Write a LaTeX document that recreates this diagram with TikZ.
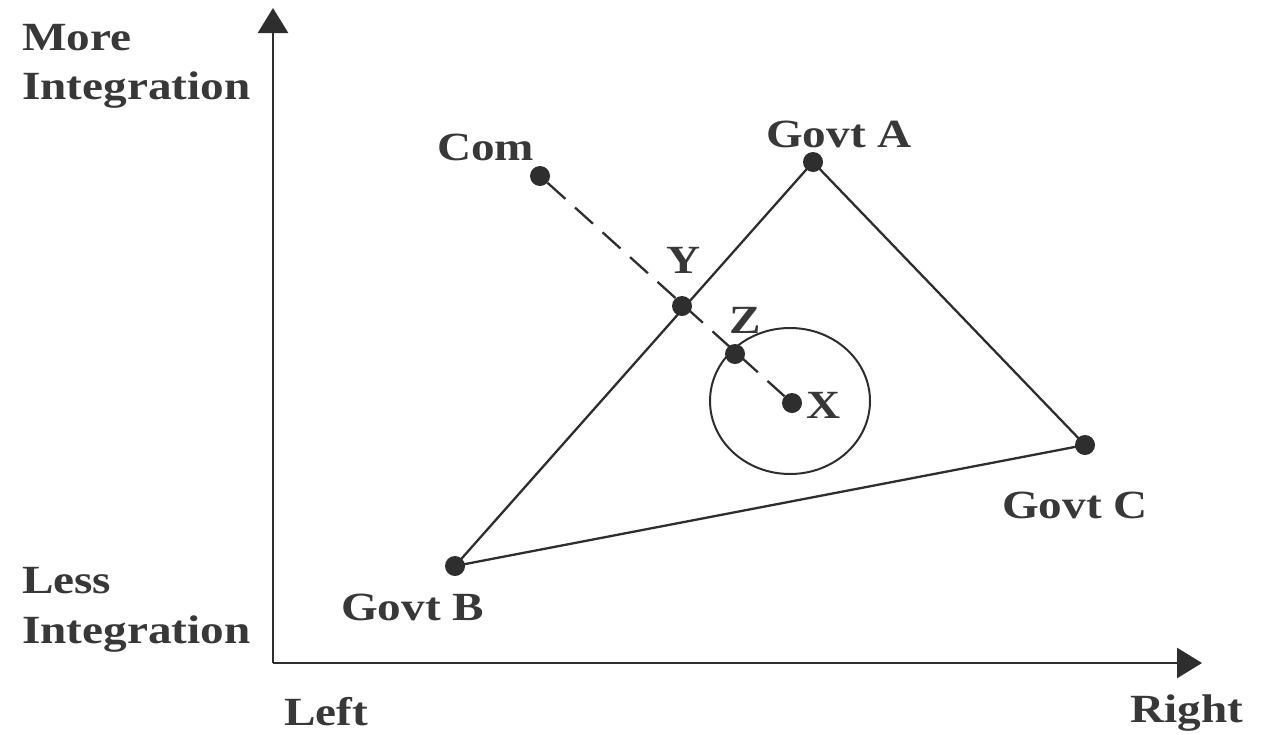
\documentclass[tikz,border=0pt]{standalone}
\usepackage{fontspec}
\setmainfont[FakeStretch=1.18]{Liberation Serif}
\usetikzlibrary{arrows.meta}
\definecolor{ink}{HTML}{2E2E2E}
\definecolor{txt}{HTML}{383838}
\tikzset{
  axisline/.style={draw=ink, line width=2.8pt, -{Triangle[width=30pt,length=25pt]}},
  edge/.style={draw=ink, line width=2.3pt},
  dashedge/.style={draw=ink, line width=2.3pt, dash pattern=on 24pt off 13pt},
  dot/.style={circle, fill=ink, minimum size=20pt, inner sep=0pt},
  lbl/.style={anchor=base west, inner sep=0pt, text=txt, font=\fontsize{40}{48}\selectfont\bfseries},
}
\begin{document}
\begin{tikzpicture}[x=1pt,y=-1pt]
\useasboundingbox (0,0) rectangle (1261,734);
% axes
\coordinate (O) at (273,663);
\coordinate (ytip) at (273,8);
\coordinate (xtip) at (1202,663);
\draw[axisline] (O) -- (ytip);
\draw[axisline] (O) -- (xtip);
% circle
\coordinate (cc) at (790,401);
\draw[edge, line width=2pt] (cc) ellipse [x radius=80, y radius=73];
% points
\node[dot] (com) at (540,176) {};
\node[dot] (ga) at (813,162) {};
\node[dot] (gb) at (455,566) {};
\node[dot] (gc) at (1085,445) {};
\node[dot] (y) at (682,306) {};
\node[dot] (z) at (735,354) {};
\node[dot] (x) at (792,403) {};
% triangle
\draw[edge] (ga.center) -- (gb.center) -- (gc.center) -- cycle;
% dashed line
\draw[dashedge] (com) -- (x);
% labels
\node[lbl] (tmore) at (22,50) {More};
\node[lbl] (tint1) at (22,99) {Integration};
\node[lbl] (tless) at (22,593) {Less};
\node[lbl] (tint2) at (22,643) {Integration};
\node[lbl] (tleft) at (284,725) {Left};
\node[lbl] (tright) at (1130,722) {Right};
\node[lbl] (tcom) at (437,160) {Com};
\node[lbl] (tga) at (766,147) {Govt A};
\node[lbl] (ty) at (666,273) {Y};
\node[lbl] (tz) at (729,333) {Z};
\node[lbl] (tx) at (806,418) {X};
\node[lbl] (tgc) at (1002,518) {Govt C};
\node[lbl] (tgb) at (341,620) {Govt B};
\end{tikzpicture}
\end{document}
